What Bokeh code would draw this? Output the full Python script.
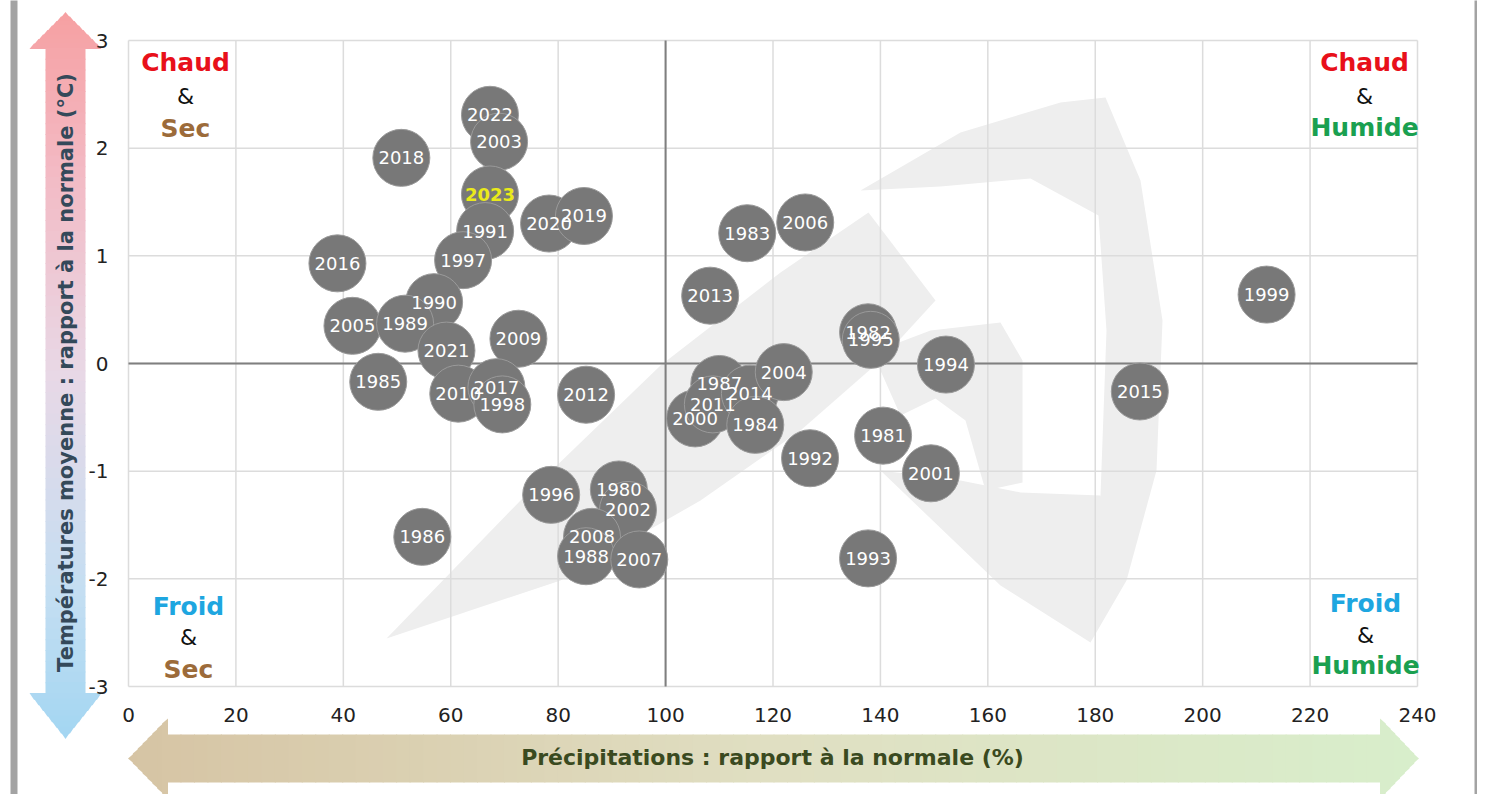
import numpy as np
from bokeh.plotting import figure
from bokeh.models import ColumnDataSource, FixedTicker
from bokeh.core.properties import value
from bokeh.embed import file_html
from bokeh.resources import INLINE

# ---------------- data ----------------
years = ["2022", "2003", "2018", "2023", "2020", "2019", "1991", "1997", "2016", "1990",
         "2005", "1989", "2021", "2009", "1985", "2010", "2017", "1998", "2012", "1996",
         "1980", "2002", "2008", "1988", "2007", "1986", "2000", "1987", "2011", "2014",
         "1984", "2004", "2013", "1983", "2006", "1992", "1982", "1995", "1994", "1981",
         "2001", "1993", "2015", "1999"]
precip = [67.3, 69.0, 50.8, 67.3, 78.3, 84.8, 66.4, 62.3, 38.9, 56.9,
          41.7, 51.5, 59.2, 72.6, 46.5, 61.4, 68.5, 69.6, 85.2, 78.7,
          91.3, 93.0, 86.3, 85.2, 95.1, 54.7, 105.5, 110.0, 108.8, 115.7,
          116.7, 122.0, 108.3, 115.2, 126.0, 126.9, 137.7, 138.2, 152.2, 140.5,
          149.4, 137.7, 188.3, 211.9]
temp = [2.31, 2.06, 1.91, 1.57, 1.30, 1.37, 1.23, 0.96, 0.93, 0.57,
        0.35, 0.37, 0.12, 0.23, -0.17, -0.28, -0.22, -0.38, -0.29, -1.22,
        -1.17, -1.36, -1.61, -1.79, -1.82, -1.61, -0.51, -0.19, -0.38, -0.28,
        -0.57, -0.08, 0.63, 1.21, 1.31, -0.88, 0.29, 0.22, -0.01, -0.67,
        -1.02, -1.81, -0.26, 0.64]
highlight_year = "2023"

x_ticks = [0, 20, 40, 60, 80, 100, 120, 140, 160, 180, 200, 220, 240]
y_ticks = [-3, -2, -1, 0, 1, 2, 3]

x_title = "Précipitations : rapport à la normale (%)"
y_title = "Températures moyenne : rapport à la normale (°C)"

FONT = "DejaVu Sans"

# ---------------- geometry: canvas px <-> data ----------------
W, H = 1477, 794
PX0, PX1 = 128.0, 1417.0     # canvas x of data 0 and 240
PY3, PYm3 = 40.0, 686.0      # canvas y of data 3 and -3
kx = (PX1 - PX0) / (x_ticks[-1] - x_ticks[0])
ky = (PYm3 - PY3) / (y_ticks[-1] - y_ticks[0])

def X(px):
    return x_ticks[0] + (px - PX0) / kx

def Y(py):
    return y_ticks[-1] - (py - PY3) / ky

p = figure(width=W, height=H, x_range=(X(0), X(W)), y_range=(Y(H), Y(0)),
           output_backend="svg", toolbar_location=None,
           min_border_left=0, min_border_right=0, min_border_top=0, min_border_bottom=0,
           background_fill_color="white", border_fill_color="white")
p.outline_line_color = None
p.xgrid.visible = False
p.ygrid.visible = False

for ax in (p.xaxis[0], p.yaxis[0]):
    ax.axis_line_color = None
    ax.major_tick_line_color = None
    ax.minor_tick_line_color = None
    ax.major_tick_out = 0
    ax.major_tick_in = 0
    ax.major_label_text_font = FONT
    ax.major_label_text_font_size = "20px"
    ax.major_label_text_color = "#222222"
p.xaxis.ticker = FixedTicker(ticks=x_ticks)
p.yaxis.ticker = FixedTicker(ticks=y_ticks)
p.xaxis.fixed_location = y_ticks[0]
p.yaxis.fixed_location = x_ticks[0]
p.xaxis.major_label_standoff = 21
p.yaxis.major_label_standoff = 20
p.yaxis.major_label_overrides = {t: str(t) for t in y_ticks}

# ---------------- decorations: page bars ----------------
p.quad(left=[X(10)], right=[X(17)], bottom=[Y(H + 5)], top=[Y(-5)],
       fill_color="#a3a3a3", line_color=None)
p.quad(left=[X(1474)], right=[X(1477)], bottom=[Y(H + 5)], top=[Y(-5)],
       fill_color="#a3a3a3", line_color=None)

def lerp_color(stops, t):
    for (t0, c0), (t1, c1) in zip(stops[:-1], stops[1:]):
        if t0 <= t <= t1:
            f = (t - t0) / (t1 - t0) if t1 > t0 else 0
            r, g, b = [int(round(a + (bb - a) * f)) for a, bb in zip(c0, c1)]
            return "#%02x%02x%02x" % (r, g, b)
    return "#%02x%02x%02x" % stops[-1][1]

# vertical double arrow (canvas px), drawn as gradient stripes
v_cx = 65
v_body_half, v_head_half = 20, 36
v_tip_top, v_base_top, v_base_bot, v_tip_bot = 12, 48, 693, 738
v_stops = [(0.0, (246, 160, 162)), (0.22, (243, 186, 196)), (0.5, (232, 216, 230)),
           (0.8, (196, 222, 242)), (1.0, (163, 214, 242))]
vxs, vys, vcols = [], [], []
segs = [(v_tip_top, v_base_top, 8, lambda y: v_head_half * (y - v_tip_top) / (v_base_top - v_tip_top)),
        (v_base_top, v_base_bot, 60, lambda y: v_body_half),
        (v_base_bot, v_tip_bot, 8, lambda y: v_head_half * (v_tip_bot - y) / (v_tip_bot - v_base_bot))]
for a, b, n, hf in segs:
    edges = np.linspace(a, b, n + 1)
    for y0, y1 in zip(edges[:-1], edges[1:]):
        h0, h1 = hf(y0), hf(y1)
        vxs.append([X(v_cx - h0), X(v_cx + h0), X(v_cx + h1), X(v_cx - h1)])
        vys.append([Y(y0 - 0.5), Y(y0 - 0.5), Y(y1 + 0.5), Y(y1 + 0.5)])
        vcols.append(lerp_color(v_stops, (0.5 * (y0 + y1) - v_tip_top) / (v_tip_bot - v_tip_top)))
p.patches(vxs, vys, fill_color=vcols, line_color=None)

# horizontal double arrow
h_cy = 758
h_body_half, h_head_half = 24, 40
h_tip_l, h_base_l, h_base_r, h_tip_r = 128, 167, 1380, 1418
h_stops = [(0.0, (214, 196, 164)), (0.5, (224, 223, 194)), (1.0, (216, 238, 203))]
hxs, hys, hcols = [], [], []
segs = [(h_tip_l, h_base_l, 8, lambda x: h_head_half * (x - h_tip_l) / (h_base_l - h_tip_l)),
        (h_base_l, h_base_r, 90, lambda x: h_body_half),
        (h_base_r, h_tip_r, 8, lambda x: h_head_half * (h_tip_r - x) / (h_tip_r - h_base_r))]
for a, b, n, hf in segs:
    edges = np.linspace(a, b, n + 1)
    for x0, x1 in zip(edges[:-1], edges[1:]):
        w0, w1 = hf(x0), hf(x1)
        hxs.append([X(x0 - 0.5), X(x1 + 0.5), X(x1 + 0.5), X(x0 - 0.5)])
        hys.append([Y(h_cy - w0), Y(h_cy - w1), Y(h_cy + w1), Y(h_cy + w0)])
        hcols.append(lerp_color(h_stops, (0.5 * (x0 + x1) - h_tip_l) / (h_tip_r - h_tip_l)))
p.patches(hxs, hys, fill_color=hcols, line_color=None)

# axis titles on the arrows
p.text(x=[X(v_cx)], y=[Y(372)], text=[y_title], angle=np.pi / 2,
       text_align="center", text_baseline="middle", text_font=value(FONT),
       text_font_style="bold", text_font_size="21px", text_color="#34495a")
p.text(x=[X(772)], y=[Y(757)], text=[x_title],
       text_align="center", text_baseline="middle", text_font=value(FONT),
       text_font_style="bold", text_font_size="22px", text_color="#3a4a20")

# ---------------- background watermark (light grey logo, canvas px) ----------------
wm_band = [(386, 638), (520, 500), (660, 365), (780, 272), (868, 212), (935, 300),
           (880, 360), (800, 430), (700, 500), (560, 580)]
wm_arc = [(860, 190), (960, 132), (1060, 102), (1105, 97), (1140, 180), (1162, 320),
          (1156, 470), (1126, 580), (1090, 642), (1062, 590), (1100, 495), (1106, 330),
          (1098, 215), (1030, 178), (940, 186)]
wm_low = [(880, 470), (960, 480), (1020, 492), (1100, 495), (1090, 642), (1000, 585)]
wm_c = [(872, 352), (930, 330), (1000, 322), (1022, 360), (1022, 482), (985, 490),
        (965, 420), (935, 398), (900, 415)]
wxs = [[X(a) for a, _ in shp] for shp in (wm_band, wm_arc, wm_low, wm_c)]
wys = [[Y(b) for _, b in shp] for shp in (wm_band, wm_arc, wm_low, wm_c)]
p.patches(wxs, wys, fill_color="#eeeeee", line_color=None)

# ---------------- plot area: grid, zero lines ----------------
x0, x1 = x_ticks[0], x_ticks[-1]
y0, y1 = y_ticks[0], y_ticks[-1]
p.segment(x0=x_ticks, x1=x_ticks, y0=[y0] * len(x_ticks), y1=[y1] * len(x_ticks),
          line_color="#dcdcdc", line_width=1.5)
p.segment(x0=[x0] * len(y_ticks), x1=[x1] * len(y_ticks), y0=y_ticks, y1=y_ticks,
          line_color="#dcdcdc", line_width=1.5)
p.segment(x0=[100], x1=[100], y0=[y0], y1=[y1], line_color="#7f7f7f", line_width=2)
p.segment(x0=[x0], x1=[x1], y0=[0], y1=[0], line_color="#7f7f7f", line_width=2)

# ---------------- bubbles ----------------
src = ColumnDataSource(dict(x=precip, y=temp, year=years,
                            color=["#eaea1a" if y == highlight_year else "white" for y in years],
                            style=["bold" if y == highlight_year else "normal" for y in years]))
p.scatter("x", "y", source=src, size=57, fill_color="#787878", fill_alpha=1,
          line_color="#9a9a9a", line_width=1)
p.text("x", "y", text="year", source=src, text_align="center", text_baseline="middle",
       text_font=value(FONT), text_font_size="18px", text_color="color",
       text_font_style="style")

# ---------------- quadrant labels ----------------
RED, BLUE, BROWN, GREEN = "#e8101a", "#1ea6e0", "#9c6b3a", "#1aa050"
quad_blocks = [
    (185, [(62, "Chaud", RED, "bold"), (96, "&", "#111111", "normal"), (128, "Sec", BROWN, "bold")]),
    (1364, [(62, "Chaud", RED, "bold"), (96, "&", "#111111", "normal"), (127, "Humide", GREEN, "bold")]),
    (188, [(606, "Froid", BLUE, "bold"), (637, "&", "#111111", "normal"), (669, "Sec", BROWN, "bold")]),
    (1365, [(603, "Froid", BLUE, "bold"), (635, "&", "#111111", "normal"), (665, "Humide", GREEN, "bold")]),
]
for qx, items in quad_blocks:
    for qy, txt, col, sty in items:
        p.text(x=[X(qx)], y=[Y(qy)], text=[txt], text_align="center", text_baseline="middle",
               text_font=value(FONT), text_font_style=sty,
               text_font_size="25px" if sty == "bold" else "22px", text_color=col)

open("out.html", "w").write(file_html(p, INLINE))
